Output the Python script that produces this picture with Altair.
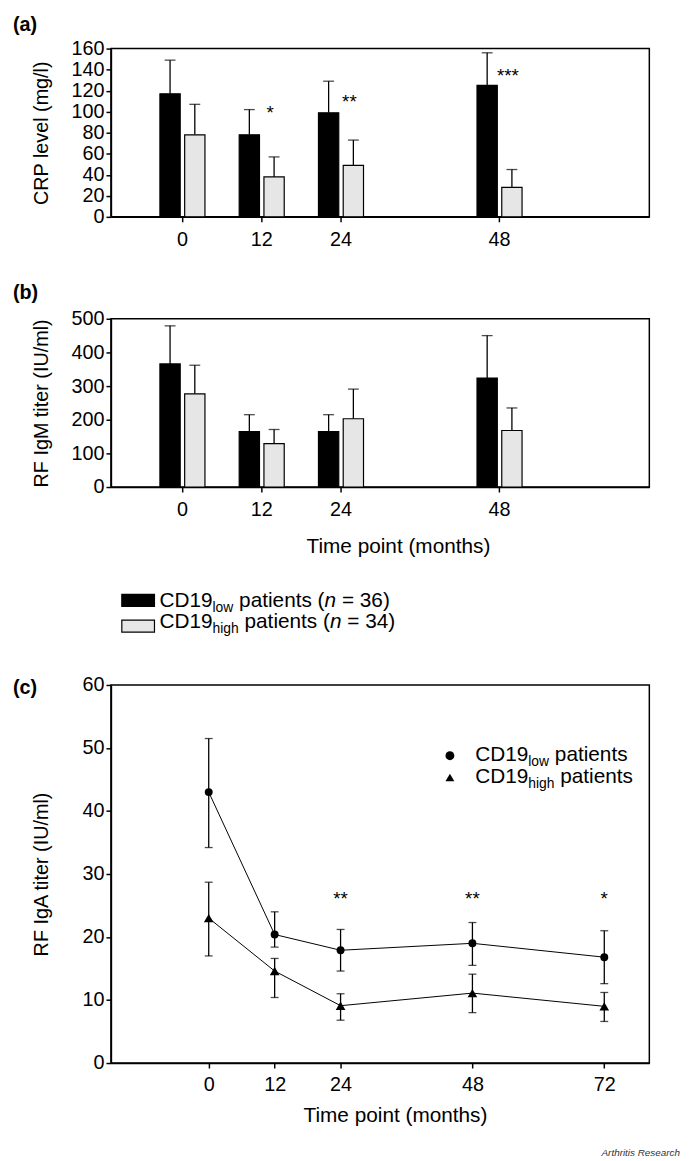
import altair as alt
import pandas as pd

FONT = "Liberation Sans"

# ---------------- data ----------------
times_ab = [0, 12, 24, 48]
crp_low = [117, 78, 99, 125]
crp_low_sd = [32, 24, 30, 31]
crp_high = [78, 38, 49, 28]
crp_high_sd = [29, 19, 24, 17]
crp_sig_time = [12, 24, 48]
crp_sig = ["*", "**", "***"]
crp_sig_level = [103, 114, 139]

igm_low = [366, 165, 165, 324]
igm_low_sd = [113, 50, 50, 126]
igm_high = [277, 129, 203, 168]
igm_high_sd = [85, 42, 88, 67]

times_c = [0, 12, 24, 48, 72]
iga_low = [43.0, 20.4, 17.9, 19.0, 16.8]
iga_low_lo = [34.2, 18.4, 14.6, 15.5, 12.6]
iga_low_hi = [51.5, 24.0, 21.2, 22.3, 21.0]
iga_high = [23.0, 14.6, 9.1, 11.1, 9.0]
iga_high_lo = [17.0, 10.4, 6.8, 8.0, 6.6]
iga_high_hi = [28.7, 16.6, 11.0, 14.1, 11.2]
iga_sig_time = [24, 48, 72]
iga_sig = ["**", "**", "*"]
iga_sig_level = [26.8, 26.8, 26.8]

groups = ["CD19low", "CD19high"]
bar_colors = ["#000000", "#e6e6e6"]
shapes = ["circle", "triangle-up"]
point_sizes = [64, 95]

# ---------------- text helpers ----------------
AW = {"C": 722, "D": 722, "1": 556, "9": 556, "3": 556, "6": 556, "4": 556,
      "l": 222, "o": 556, "w": 722, "h": 556, "i": 222, "g": 556, " ": 278,
      "p": 556, "a": 556, "t": 278, "e": 556, "n": 556, "s": 500, "(": 333,
      ")": 333, "=": 584}


def tw(s, size):
    return sum(AW.get(c, 556) for c in s) * size / 1000.0


def rich_text(pieces, x0, yb):
    """pieces: (text, size, dy, style) drawn left to right from x0 on baseline yb."""
    layers = []
    x = x0
    for text, size, dy, style in pieces:
        lead = len(text) - len(text.lstrip(" "))
        trail = len(text) - len(text.rstrip(" "))
        core = text.strip(" ")
        x += tw(" " * lead, size)
        layers.append(
            alt.Chart(pd.DataFrame({"s": [core]}))
            .mark_text(align="left", baseline="alphabetic", font=FONT,
                       fontSize=size, fontStyle=style, color="black")
            .encode(text="s:N", x=alt.value(x), y=alt.value(yb + dy))
        )
        x += tw(core, size) + tw(" " * trail, size)
    return layers


def tag(label, y, opacity=1):
    return (
        alt.Chart(pd.DataFrame({"s": [label]}))
        .mark_text(align="left", baseline="middle", font=FONT, fontSize=20,
                   fontWeight="bold", color="black", opacity=opacity)
        .encode(text="s:N", x=alt.value(-99), y=alt.value(y))
    )


W = 544


def bar_panel(low, low_sd, high, high_sd, ymax, ystep, ytitle, label,
              xtitle=None, sig=None, legend=None, tag_y=-26):
    H = 170
    rows = []
    for g, vals, sds in ((groups[0], low, low_sd), (groups[1], high, high_sd)):
        for t, v, s in zip(times_ab, vals, sds):
            rows.append({"t": t, "g": g, "v": v, "top": v + s})
    df = pd.DataFrame(rows)
    xs = alt.Scale(domain=[-10, 70], nice=False, zero=False)
    ys = alt.Scale(domain=[0, ymax], nice=False, zero=True)
    xax = alt.Axis(values=times_ab, title=xtitle, tickSize=5, labelPadding=8,
                   labelFlush=False, labelOverlap=False, grid=False,
                   titlePadding=16, titleX=290, titleFontSize=21)
    yax = alt.Axis(values=list(range(0, ymax + 1, ystep)), title=ytitle,
                   tickSize=5, labelPadding=2, titlePadding=20, minExtent=40,
                   maxExtent=40, labelFlush=False, labelOverlap=False,
                   grid=False)
    X = alt.X("t:Q", scale=xs, axis=xax)
    Y = alt.Y("v:Q", scale=ys, axis=yax)
    Ytop = alt.Y("top:Q", scale=ys, axis=yax)
    color = alt.Color("g:N", scale=alt.Scale(domain=groups, range=bar_colors),
                      legend=legend)
    layers = []
    for g, off in zip(groups, [-12, 13]):
        base = alt.Chart(df).transform_filter(alt.datum.g == g)
        layers.append(base.mark_rule(color="black", strokeWidth=1.3, xOffset=off)
                      .encode(x=X, y=Y, y2="top:Q"))
        layers.append(base.mark_tick(orient="horizontal", size=11, thickness=1.3,
                                     color="black", xOffset=off)
                      .encode(x=X, y=Ytop))
        layers.append(base.mark_bar(orient="vertical", width=20.5, xOffset=off,
                                    stroke="black", strokeWidth=1.2)
                      .encode(x=X, y=Y, color=color))
    if sig is not None:
        st, ss, sl = sig
        sdf = pd.DataFrame({"t": st, "s": ss, "lvl": sl})
        layers.append(alt.Chart(sdf).mark_text(dx=9, dy=11, baseline="alphabetic",
                                                font=FONT, fontSize=19, color="black")
                      .encode(x=X, y=alt.Y("lvl:Q", scale=ys, axis=yax),
                              text="s:N"))
    layers.append(tag(label, tag_y))
    return layers


# ---------------- panel (a) ----------------
pa_layers = bar_panel(crp_low, crp_low_sd, crp_high, crp_high_sd, 160, 20,
                      "CRP level (mg/l)", "(a)",
                      sig=(crp_sig_time, crp_sig, crp_sig_level), legend=None,
                      tag_y=-24)
pa = alt.layer(*pa_layers).properties(width=W, height=170)

# ---------------- panel (b) with bar legend ----------------
bar_legend = alt.Legend(orient="none", legendX=10, legendY=267, title=None,
                        labelExpr="''", labelFontSize=1,
                        symbolType="M-1,-0.364H1V0.364H-1Z", symbolSize=1089,
                        symbolStrokeColor="black", symbolStrokeWidth=1.2,
                        rowPadding=-12, padding=0, direction="vertical")
pb_layers = bar_panel(igm_low, igm_low_sd, igm_high, igm_high_sd, 500, 100,
                      "RF IgM titer (IU/ml)", "(b)",
                      xtitle="Time point (months)", legend=bar_legend)
SUB = 14
FS = 21
leg1 = rich_text([("CD19", FS, 0, "normal"), ("low", SUB, 5, "normal"),
                  (" patients (", FS, 0, "normal"), ("n", FS, 0, "italic"),
                  (" = 36)", FS, 0, "normal")], 49, 291)
leg2 = rich_text([("CD19", FS, 0, "normal"), ("high", SUB, 5, "normal"),
                  (" patients (", FS, 0, "normal"), ("n", FS, 0, "italic"),
                  (" = 34)", FS, 0, "normal")], 49, 312)
pb = alt.layer(*pb_layers, *leg1, *leg2).properties(width=W, height=170)

# ---------------- panel (c) ----------------
rows = []
for g, vals, lo, hi in ((groups[0], iga_low, iga_low_lo, iga_low_hi),
                        (groups[1], iga_high, iga_high_lo, iga_high_hi)):
    for t, v, a, b in zip(times_c, vals, lo, hi):
        rows.append({"t": t, "g": g, "v": v, "lo": a, "hi": b})
dfc = pd.DataFrame(rows)
xsc = alt.Scale(domain=[-17.8, 80.2], nice=False, zero=False)
ysc = alt.Scale(domain=[0, 60], nice=False)
xaxc = alt.Axis(values=times_c, title="Time point (months)", tickSize=5,
                labelPadding=7, labelFlush=False, labelOverlap=False, grid=False,
                titlePadding=10, titleX=287, titleFontSize=21)
yaxc = alt.Axis(values=list(range(0, 61, 10)), title="RF IgA titer (IU/ml)",
                tickSize=5, labelPadding=2, titlePadding=20, minExtent=40,
                maxExtent=40, labelFlush=False, labelOverlap=False, grid=False)
Xc = alt.X("t:Q", scale=xsc, axis=xaxc)
Yc = alt.Y("v:Q", scale=ysc, axis=yaxc)
Ylo = alt.Y("lo:Q", scale=ysc, axis=yaxc)
Yhi = alt.Y("hi:Q", scale=ysc, axis=yaxc)
basec = alt.Chart(dfc)
shape_legend = alt.Legend(orient="none", legendX=338, legendY=67, title=None,
                          labelExpr="''", labelFontSize=1, symbolSize=80,
                          symbolFillColor="black", symbolStrokeColor="black",
                          symbolStrokeWidth=0, rowPadding=13, padding=0,
                          direction="vertical")
Shape = alt.Shape("g:N", scale=alt.Scale(domain=groups, range=shapes),
                  legend=shape_legend)
c_layers = [
    basec.mark_line(color="black", strokeWidth=1).encode(x=Xc, y=Yc, detail="g:N"),
    basec.mark_rule(color="black", strokeWidth=1.3).encode(x=Xc, y=Ylo, y2="hi:Q"),
    basec.mark_tick(orient="horizontal", size=8, thickness=1.3, color="black").encode(
        x=Xc, y=Ylo),
    basec.mark_tick(orient="horizontal", size=8, thickness=1.3, color="black").encode(
        x=Xc, y=Yhi),
]
for g, sz in zip(groups, point_sizes):
    c_layers.append(
        basec.transform_filter(alt.datum.g == g)
        .mark_point(filled=True, color="black", opacity=1, size=sz)
        .encode(x=Xc, y=Yc, shape=Shape)
    )
c_layers += [
    alt.Chart(pd.DataFrame({"t": iga_sig_time, "s": iga_sig, "lvl": iga_sig_level}))
    .mark_text(dy=11, baseline="alphabetic", font=FONT, fontSize=19, color="black")
    .encode(x=Xc, y=alt.Y("lvl:Q", scale=ysc, axis=yaxc), text="s:N"),
    tag("(c)", 3),
    tag("(c)", -6, opacity=0),
    alt.Chart(pd.DataFrame({"s": ["Arthritis Research"]}))
    .mark_text(align="right", baseline="middle", font=FONT, fontSize=10,
               fontStyle="italic", color="#333333")
    .encode(text="s:N", x=alt.value(575), y=alt.value(473)),
]
legc1 = rich_text([("CD19", FS, 0, "normal"), ("low", SUB, 5, "normal"),
                   (" patients", FS, 0, "normal")], 368, 77)
legc2 = rich_text([("CD19", FS, 0, "normal"), ("high", SUB, 5, "normal"),
                   (" patients", FS, 0, "normal")], 368, 99)
pc = alt.layer(*c_layers, *legc1, *legc2).properties(width=W, height=382)

chart = (
    alt.vconcat(pa, pb, pc, spacing=32)
    .resolve_scale(color="independent", shape="independent")
    .resolve_legend(color="independent", shape="independent")
    .properties(padding={"left": 4, "top": 0, "right": 0, "bottom": 0})
    .configure_view(stroke="black", strokeWidth=1.5)
    .configure_axis(domainColor="black", domainWidth=1.5, tickColor="black",
                    tickWidth=1.5, labelColor="black", titleColor="black",
                    labelFont=FONT, titleFont=FONT, labelFontSize=20,
                    titleFontSize=20, titleFontWeight="normal")
    .configure_text(font=FONT)
)

chart.save("out.html", embed_options={"renderer": "svg", "actions": False})
